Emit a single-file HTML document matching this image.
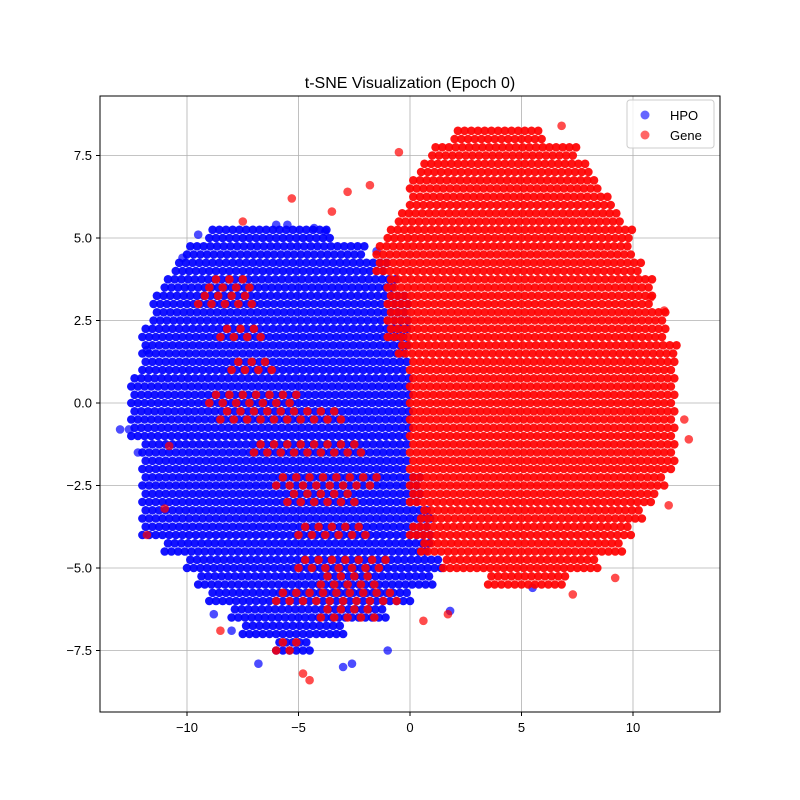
<!DOCTYPE html>
<html><head><meta charset="utf-8"><style>
body{margin:0;background:#fff;font-family:"Liberation Sans","DejaVu Sans",sans-serif}
svg{display:block}
</style></head><body>
<svg id="chart" width="800" height="800" font-family="Liberation Sans, DejaVu Sans, sans-serif">
<rect width="800" height="800" fill="#fff"/>
<text x="410" y="88" text-anchor="middle" font-size="16">t-SNE Visualization (Epoch 0)</text>
<g id="grid"></g>
<g id="points"></g>
<rect x="100" y="96" width="620" height="616" fill="none" stroke="#000" stroke-width="1"/>
<g id="ticks" font-size="13"></g>
<g>
<rect x="627" y="100" width="87" height="48" rx="3" fill="#fff" fill-opacity="0.8" stroke="#ccc"/>
<g><circle cx="645" cy="115" r="4.5" fill="blue" fill-opacity="0.6"/><text x="670" y="120" font-size="13">HPO</text></g>
<g><circle cx="645" cy="135" r="4.5" fill="red" fill-opacity="0.6"/><text x="670" y="140" font-size="13">Gene</text></g>
</g>
</svg>
<script>
const xTicks=[-10,-5,0,5,10];
const yTicks=[-7.5,-5.0,-2.5,0.0,2.5,5.0,7.5];
// blue (HPO) cloud: row y with x extents
const hpoRowY=[5,4.5,4,3.5,3,2.5,2,1.5,1,0.5,0,-0.5,-1,-1.5,-2,-2.5,-3,-3.5,-4,-4.5,-5,-5.5,-6,-6.5,-7,-7.5];
const hpoRowXmin=[-9,-10,-10.5,-11,-11.5,-11.5,-12,-12,-12,-12.5,-12.5,-12.5,-12.5,-12,-12,-12,-12,-12,-12,-11,-10,-9.5,-9,-8,-7.5,-6];
const hpoRowXmax=[-3.5,-2,-1,-0.5,0,0,0,0,0,0,0,0,0,0,0,0.5,0.5,1,1,1,1.5,1,0,-1,-3,-4.5];
const hpoExtraX=[-12.6,-5.5,-4.3,-2.6,-1,-6.8,-3,1.8,5.5,-9.5,-10.2,-8,-11.8,-12.2,-3.8,-6,-8.8,-1.5,-13];
const hpoExtraY=[-0.8,5.4,5.3,-7.9,-7.5,-7.9,-8,-6.3,-5.6,5.1,4.4,-6.9,1.6,-1.5,5.2,5.4,-6.4,4.6,-0.8];
// red (Gene) main cloud
const geneRowY=[8,7.5,7,6.5,6,5.5,5,4.5,4,3.5,3,2.5,2,1.5,1,0.5,0,-0.5,-1,-1.5,-2,-2.5,-3,-3.5,-4,-4.5,-5,-5.5];
const geneRowXmin=[2,1,0.5,0,0,-0.5,-1,-1.5,-1.5,-1,-1,-1,-1,-0.5,0,0,0,0,0,0,0,0,0,0.5,0,0.5,1.5,3.5];
const geneRowXmax=[6,7.5,8,8.5,9,9.5,10,10,10.5,11,11,11.5,11.5,12,12,12,12,12,12,12,12,11.5,11,10.5,10,9.5,8.5,7];
// red patches mixed inside blue
const patchRowY=[3.5,3,2,1,0,-0.5,-1.5,-2.5,-3,-4,-5,-5.5,-6,-6.5,-7.5];
const patchRowXmin=[-9,-9.5,-8.5,-8,-9,-8.5,-7,-6,-5.5,-5,-5,-4,-6,-4,-6];
const patchRowXmax=[-7,-7,-6.5,-6,-5,-3,-2,-1.5,-2.5,-2,-1,-1.5,-0.5,-1.5,-5];
const geneExtraX=[-5.3,-7.5,-4.5,-4.8,-2.8,-0.5,-11.8,-11,6.8,-3.5,12.5,12.3,11.6,11.4,9.2,7.3,10.8,1.7,0.6,-8.5,-10.8,-1.8];
const geneExtraY=[6.2,5.5,-8.4,-8.2,6.4,7.6,-4,-3.2,8.4,5.8,-1.1,-0.5,-3.1,2.8,-5.3,-5.8,3.2,-6.4,-6.6,-6.9,-1.3,6.6];

const X0=410,XS=22.3,Y0=403,YS=33;
const sx=v=>X0+v*XS, sy=v=>Y0-v*YS;
const NS='http://www.w3.org/2000/svg';
const grid=document.getElementById('grid'),tk=document.getElementById('ticks'),pts=document.getElementById('points');
function mk(t,a,p){const e=document.createElementNS(NS,t);for(const k in a)e.setAttribute(k,a[k]);p.appendChild(e);return e;}
xTicks.forEach(v=>{
  const l=mk('line',{x1:sx(v),x2:sx(v),y1:96,y2:712,stroke:'#b0b0b0','stroke-width':0.8},grid);
  
  
  mk('line',{x1:sx(v),x2:sx(v),y1:712,y2:716,stroke:'#000'},tk);
  const t=mk('text',{x:sx(v),y:732,'text-anchor':'middle'},tk);t.textContent=v<0?'\u2212'+(-v):v;
  
  
});
yTicks.forEach(v=>{
  const l=mk('line',{x1:100,x2:720,y1:sy(v),y2:sy(v),stroke:'#b0b0b0','stroke-width':0.8},grid);
  
  
  mk('line',{x1:96,x2:100,y1:sy(v),y2:sy(v),stroke:'#000'},tk);
  const t=mk('text',{x:92,y:sy(v)+4.5,'text-anchor':'end'},tk);t.textContent=(v<0?'\u2212':'')+Math.abs(v).toFixed(1);
  
  
});
function dot(x,y,c,name,op){
  const e=mk('circle',{cx:sx(x).toFixed(1),cy:sy(y).toFixed(1),r:4.3,fill:c,'fill-opacity':op},pts);
  
  
}
function rows(Y,A,B,c,name,step,op){
  Y.forEach((y,i)=>{
    [0,0.25].forEach((dy,k)=>{
      for(let x=A[i]+(k?step/2:0);x<=B[i];x+=step)dot(x,y+dy,c,name,op);
    });
  });
}
rows(hpoRowY,hpoRowXmin,hpoRowXmax,'blue','hpo-point',0.3,0.92);
hpoExtraX.forEach((x,i)=>dot(x,hpoExtraY[i],'blue','hpo-point',0.7));
rows(patchRowY,patchRowXmin,patchRowXmax,'red','gene-point',0.6,0.85);
rows(geneRowY,geneRowXmin,geneRowXmax,'red','gene-point',0.3,0.92);
geneExtraX.forEach((x,i)=>dot(x,geneExtraY[i],'red','gene-point',0.7));
</script>
</body></html>
